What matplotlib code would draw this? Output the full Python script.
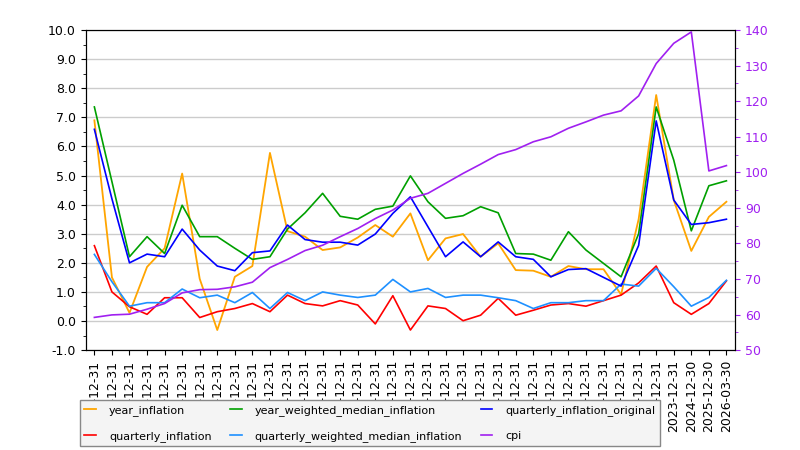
import matplotlib
matplotlib.use('Agg')
import matplotlib.pyplot as plt
from matplotlib.ticker import MultipleLocator
import numpy as np

# x축 라벨 (연말 기준)
dates = [str(y) + '-12-31' for y in range(1990, 2024)] + ['2024-12-30', '2025-12-30', '2026-03-30']

year_inflation = [6.9, 1.5, 0.28, 1.86, 2.5, 5.07, 1.45,
                  -0.31, 1.52, 1.89, 5.78, 3.09, 2.9,
                  2.44, 2.53, 2.87, 3.3, 2.9, 3.7,
                  2.09, 2.84, 2.99, 2.21, 2.67, 1.75,
                  1.73, 1.52, 1.89, 1.78, 1.78, 0.91,
                  3.5, 7.77, 4.16, 2.41, 3.58, 4.1]
year_weighted_median_inflation = [7.36, 4.79, 2.21, 2.9, 2.32, 3.98, 2.9,
                                  2.9, 2.5, 2.12, 2.21, 3.16, 3.72,
                                  4.39, 3.6, 3.5, 3.84, 3.95, 4.99,
                                  4.1, 3.53, 3.62, 3.93, 3.72, 2.32,
                                  2.3, 2.09, 3.07, 2.44, 1.98, 1.52,
                                  3.0, 7.36, 5.53, 3.1, 4.65, 4.82]
quarterly_inflation_original = [6.59, 4.2, 2.0, 2.3, 2.21, 3.16, 2.44,
                                1.89, 1.73, 2.35, 2.41, 3.3, 2.8,
                                2.71, 2.71, 2.61, 2.99, 3.7, 4.27,
                                3.24, 2.21, 2.72, 2.21, 2.72, 2.21,
                                2.12, 1.52, 1.77, 1.8, 1.5, 1.2,
                                2.6, 6.88, 4.16, 3.32, 3.38, 3.5]
quarterly_inflation = [2.59, 1.0, 0.49, 0.23, 0.8, 0.8, 0.12,
                       0.32, 0.43, 0.6, 0.32, 0.89, 0.6,
                       0.52, 0.7, 0.55, -0.1, 0.87, -0.31,
                       0.52, 0.43, 0.01, 0.2, 0.78, 0.2,
                       0.37, 0.55, 0.6, 0.51, 0.7, 0.89,
                       1.31, 1.89, 0.63, 0.23, 0.6, 1.38]
quarterly_weighted_median_inflation = [2.29, 1.35, 0.51, 0.63, 0.63, 1.1, 0.8,
                                       0.89, 0.63, 0.98, 0.43, 0.98, 0.7,
                                       1.0, 0.89, 0.81, 0.89, 1.43, 1.0,
                                       1.12, 0.81, 0.89, 0.89, 0.8, 0.7,
                                       0.43, 0.63, 0.63, 0.7, 0.7, 1.27,
                                       1.2, 1.81, 1.18, 0.51, 0.81, 1.4]
cpi = [59.2, 59.9, 60.1, 61.5, 63.1, 66.1, 67.0,
       67.1, 67.8, 69.1, 73.2, 75.5, 78.0,
       79.5, 81.9, 84.2, 87.0, 89.4, 92.7,
       94.1, 96.9, 99.7, 102.3, 105.0, 106.4,
       108.6, 110.0, 112.4, 114.2, 116.1, 117.3,
       121.5, 130.6, 136.3, 139.5, 100.4, 101.9]

purple = '#a020f0'
index = np.arange(len(dates))

fig = plt.figure(figsize=(8, 4.5), dpi=100)
ax = fig.add_axes([0.107, 0.222, 0.812, 0.711])
ax2 = ax.twinx()

l1, = ax.plot(index, year_inflation, color='orange', lw=1.3, label='year_inflation')
l2, = ax.plot(index, quarterly_inflation, color='red', lw=1.2, label='quarterly_inflation')
l3, = ax.plot(index, year_weighted_median_inflation, color='#00a000', lw=1.2, label='year_weighted_median_inflation')
l4, = ax.plot(index, quarterly_weighted_median_inflation, color='#1e90ff', lw=1.2, label='quarterly_weighted_median_inflation')
l5, = ax.plot(index, quarterly_inflation_original, color='blue', lw=1.2, label='quarterly_inflation_original')
l6, = ax2.plot(index, cpi, color=purple, lw=1.2, label='cpi')

ax.set_xlim(-0.5, len(dates) - 0.5)
ax.set_ylim(-1, 10)
ax.yaxis.set_major_locator(MultipleLocator(1))
ax.yaxis.set_minor_locator(MultipleLocator(0.5))
ax.yaxis.set_major_formatter(matplotlib.ticker.FormatStrFormatter('%.1f'))
ax.grid(True, axis='y', color='#cccccc', lw=1)
ax.set_axisbelow(True)
ax.set_xticks(index)
ax.set_xticklabels(dates, rotation=90, fontsize=9)
ax.tick_params(axis='y', labelsize=9)

ax2.set_ylim(50, 140)
ax2.yaxis.set_major_locator(MultipleLocator(10))
ax2.yaxis.set_minor_locator(MultipleLocator(5))
ax2.tick_params(axis='y', which='both', colors=purple, labelsize=9)

fig.legend(handles=[l1, l2, l3, l4, l5, l6], loc='lower left', ncol=3,
           bbox_to_anchor=(0.1, 0.009), borderaxespad=0, fontsize=8,
           fancybox=False, facecolor='#f4f4f4', edgecolor='#888888',
           framealpha=1, columnspacing=1.7, handlelength=1.0,
           handletextpad=1.2, labelspacing=1.35)

plt.savefig('out.png')
